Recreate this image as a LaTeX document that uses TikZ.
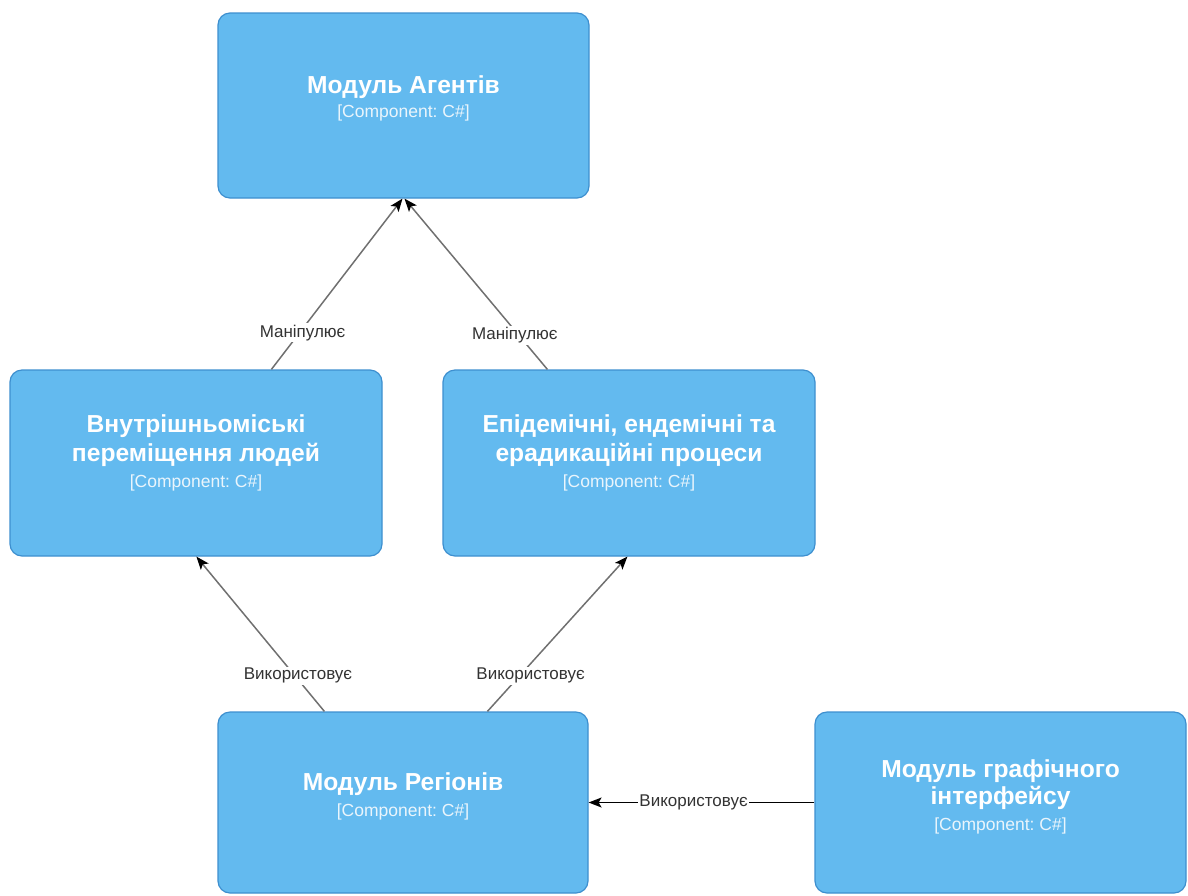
\documentclass[tikz,border=0pt]{standalone}
\usepackage{fontspec}
\setmainfont{Liberation Sans}
\usetikzlibrary{arrows.meta}
\frenchspacing
\definecolor{compfill}{HTML}{63BAEF}
\definecolor{compline}{HTML}{3D8FCF}
\definecolor{relgray}{HTML}{707070}
\definecolor{reltext}{HTML}{333333}
\definecolor{subtext}{HTML}{EAF5FC}
\tikzset{
  comp/.style={draw=compline, fill=compfill, line width=1.2pt, rounded corners=12pt,
               inner sep=0pt},
  ttl/.style={text=white, anchor=base, inner sep=0pt,
              font=\bfseries\fontsize{24.6}{28}\selectfont},
  sub/.style={text=subtext, anchor=base, inner sep=0pt,
              font=\fontsize{17.5}{20}\selectfont},
  rel/.style={draw=relgray, line width=1.5pt, -{Stealth[length=13pt,width=10pt,inset=3pt,fill=black,color=black]}},
  relk/.style={rel, draw=black},
  lbl/.style={fill=white, text=reltext, inner sep=1.5pt,
              font=\fontsize{17}{20}\selectfont},
}
\begin{document}
\begin{tikzpicture}[x=1pt, y=-1pt]
\useasboundingbox (0,0) rectangle (1188,895);

% components
\node[comp, minimum width=371pt, minimum height=185pt] (agents) at (403.5,105.5) {};
\node[comp, minimum width=372pt, minimum height=186pt] (intra)  at (196,463) {};
\node[comp, minimum width=372pt, minimum height=186pt] (epi)    at (629,463) {};
\node[comp, minimum width=370pt, minimum height=181pt] (reg)    at (403,802.5) {};
\node[comp, minimum width=371pt, minimum height=181pt] (gui)    at (1000.5,802.5) {};

% component captions
\node[ttl] (agents-t) at ([yshift=-81pt]agents.north) {Модуль Агентів};
\node[sub] (agents-s) at ([yshift=-105pt]agents.north) {[Component: C\#]};

\node[ttl] (intra-t1) at ([yshift=-63pt]intra.north) {Внутрішньоміські};
\node[ttl] (intra-t2) at ([yshift=-92pt]intra.north) {переміщення людей};
\node[sub] (intra-s)  at ([yshift=-118pt]intra.north) {[Component: C\#]};

\node[ttl] (epi-t1) at ([yshift=-63pt]epi.north) {Епідемічні, ендемічні та};
\node[ttl] (epi-t2) at ([yshift=-92pt]epi.north) {ерадикаційні процеси};
\node[sub] (epi-s)  at ([yshift=-118pt]epi.north) {[Component: C\#]};

\node[ttl] (reg-t) at ([yshift=-79pt]reg.north) {Модуль Регіонів};
\node[sub] (reg-s) at ([yshift=-105pt]reg.north) {[Component: C\#]};

\node[ttl] (gui-t1) at ([yshift=-66pt]gui.north) {Модуль графічного};
\node[ttl] (gui-t2) at ([yshift=-93pt]gui.north) {інтерфейсу};
\node[sub] (gui-s)  at ([yshift=-119pt]gui.north) {[Component: C\#]};

% relationships
\draw[rel] ([xshift=262pt]intra.north west) -- ([xshift=-1pt]agents.south)
  node[lbl, pos=0.215, xshift=3pt] (l1) {Маніпулює};
\draw[rel] ([xshift=105pt]epi.north west) -- ([xshift=1pt]agents.south)
  node[lbl, pos=0.2, xshift=-4pt] (l2) {Маніпулює};
\draw[rel] ([xshift=107pt]reg.north west) -- ([xshift=187pt]intra.south west)
  node[lbl, pos=0.23, xshift=3pt] (l3) {Використовує};
\draw[rel] ([xshift=270pt]reg.north west) -- ([xshift=185pt]epi.south west)
  node[lbl, pos=0.23, xshift=11pt] (l4) {Використовує};
\draw[relk] (gui.west) -- (reg.east)
  node[lbl, pos=0.535, inner sep=1pt] (l5) {Використовує};
\end{tikzpicture}
\end{document}
